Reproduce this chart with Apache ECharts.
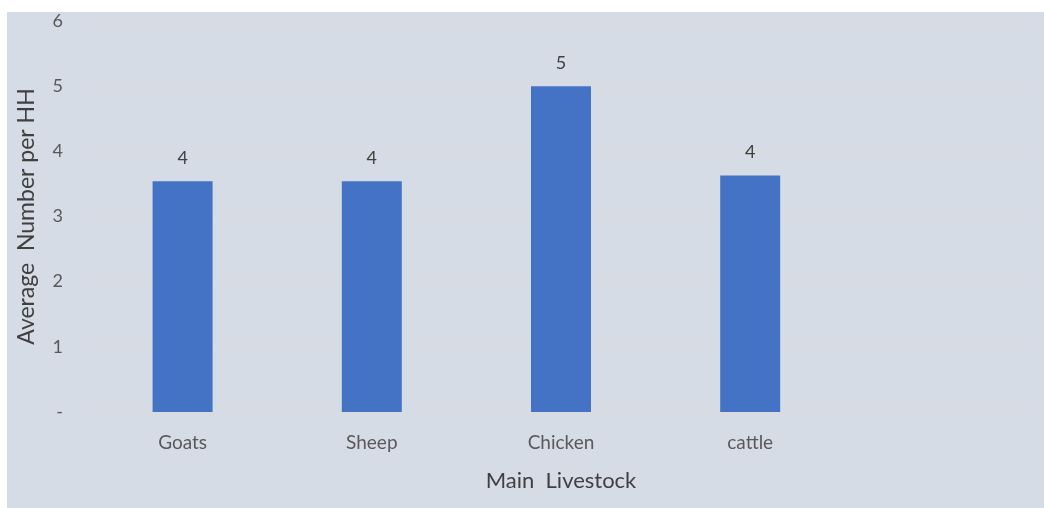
<!DOCTYPE html>
<html>
<head>
<meta charset="utf-8">
<script src="https://cdn.jsdelivr.net/npm/echarts@6/dist/echarts.min.js"></script>
<style>
  html, body { margin: 0; padding: 0; background: #ffffff; }
  #chart { position: absolute; left: 7px; top: 12px; width: 1037px; height: 496px; }
</style>
</head>
<body>
<div id="chart"></div>
<script>
// Average herd size per household by main livestock type
const categories = ['Goats', 'Sheep', 'Chicken', 'cattle', ''];
const averageNumber = [3.54, 3.54, 5.0, 3.63, null];
const yTicks = { min: 0, max: 6, interval: 1 };

const chart = echarts.init(document.getElementById('chart'), null, { renderer: 'canvas' });
const font = 'Lato, "Open Sans", "Liberation Sans", sans-serif';

chart.setOption({
  backgroundColor: '#d6dce5',
  textStyle: { fontFamily: font },
  grid: { left: 79, right: 10, top: 6, bottom: 96, containLabel: false },
  xAxis: {
    type: 'category',
    data: categories,
    name: 'Main  Livestock',
    nameLocation: 'middle',
    nameGap: 58,
    nameTextStyle: { fontFamily: font, fontSize: 22, color: '#404040' },
    axisLine: { show: false },
    axisTick: { show: false },
    axisLabel: { fontFamily: font, fontSize: 19, color: '#595959', margin: 21 }
  },
  yAxis: {
    type: 'value',
    min: yTicks.min,
    max: yTicks.max,
    interval: yTicks.interval,
    name: 'Average  Number per HH',
    nameLocation: 'middle',
    nameGap: 50,
    nameTextStyle: { fontFamily: font, fontSize: 23, color: '#404040' },
    axisLine: { show: false },
    axisTick: { show: false },
    axisLabel: {
      fontFamily: font, fontSize: 18, color: '#595959', margin: 25,
      formatter: v => (v === 0 ? '-' : String(v))
    },
    splitLine: { lineStyle: { color: '#dcdcdc', width: 1 } }
  },
  series: [{
    type: 'bar',
    data: averageNumber,
    barWidth: 60,
    itemStyle: { color: '#4472c4' },
    label: {
      show: true,
      position: 'top',
      distance: 14,
      fontFamily: font,
      fontSize: 18,
      color: '#404040',
      formatter: p => Math.round(p.value).toString()
    }
  }]
});
</script>
</body>
</html>
